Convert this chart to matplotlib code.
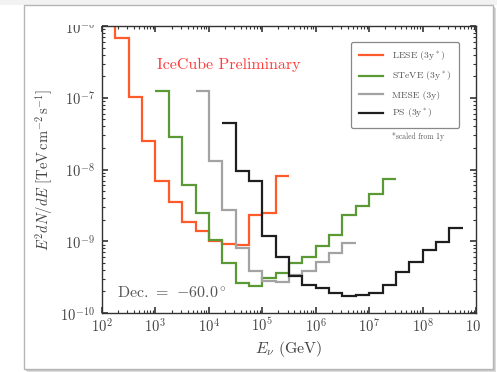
import matplotlib
matplotlib.use('Agg')
import matplotlib.pyplot as plt
import numpy as np
from matplotlib.lines import Line2D
from matplotlib.patches import Rectangle
from matplotlib.ticker import LogLocator, FuncFormatter, NullFormatter
from matplotlib.transforms import Bbox, TransformedBbox

plt.rcParams['font.family'] = ['cmr10', 'DejaVu Serif']
plt.rcParams['mathtext.fontset'] = 'cm'
plt.rcParams['axes.formatter.use_mathtext'] = True

# sensitivities per quarter-decade energy bin, E^2 dN/dE in TeV cm^-2 s^-1
# each sample: (log10 E_min, log10 E_max) of the binned range
lese_range = (2.0, 5.5)
lese_flux = [2.0e-6, 6.8e-7, 1.02e-7, 2.5e-8, 7.0e-9, 3.56e-9, 1.86e-9,
             1.39e-9, 1.0e-9, 9.3e-10, 9.0e-10, 2.32e-9, 2.45e-9, 8.1e-9]

steve_range = (3.0, 7.5)
steve_flux = [1.24e-7, 2.8e-8, 6.1e-9, 2.5e-9, 1.03e-9, 4.9e-10, 2.6e-10,
              2.35e-10, 3.1e-10, 3.6e-10, 4.9e-10, 6.0e-10, 8.5e-10, 1.24e-9,
              2.3e-9, 3.1e-9, 4.5e-9, 7.4e-9]

mese_range = (3.75, 6.75)
mese_flux = [1.24e-7, 1.3e-8, 2.75e-9, 8.0e-10, 3.85e-10, 2.8e-10, 2.7e-10,
             3.4e-10, 3.9e-10, 5.1e-10, 6.8e-10, 9.6e-10]

ps_range = (4.25, 8.75)
ps_flux = [4.5e-8, 9.6e-9, 7.0e-9, 1.18e-9, 6.1e-10, 3.3e-10, 2.45e-10,
           2.25e-10, 1.9e-10, 1.7e-10, 1.78e-10, 1.92e-10, 2.46e-10, 3.77e-10,
           5.2e-10, 7.55e-10, 9.9e-10, 1.51e-9]

samples = [
    ('LESE (3y$^*$)', lese_range, lese_flux, '#ff5a2a'),
    ('STeVE (3y$^*$)', steve_range, steve_flux, '#5b9935'),
    ('MESE (3y)', mese_range, mese_flux, '#a3a3a3'),
    ('PS (3y$^*$)', ps_range, ps_flux, '#1e1e1e'),
]

W, H = 497, 372
fig = plt.figure(figsize=(W / 100, H / 100), dpi=100)
fig.patch.set_facecolor('white')

# framed white panel with a soft shadow, kept behind the axes
def px_rect(x0, y0, x1, y1, **kw):
    return Rectangle((x0 / W, 1 - y1 / H), (x1 - x0) / W, (y1 - y0) / H,
                     transform=fig.transFigure, zorder=-10, **kw)

fig.patches.append(px_rect(0, 0, W, 5, facecolor='#f2f2f2', edgecolor='none'))
fig.patches.append(px_rect(27, 8, 496, 372, facecolor='#dcdcdc', edgecolor='none'))
fig.patches.append(px_rect(26, 7, 495, 371, facecolor='#c8c8c8', edgecolor='none'))
fig.patches.append(px_rect(24, 5, 493, 369, facecolor='white',
                           edgecolor='#b5b5b5', linewidth=1.0))

ax = fig.add_axes([102 / W, 1 - 313 / H, 374 / W, 287 / H])
ax.patch.set_alpha(0)
ax.set_xscale('log')
ax.set_yscale('log')
ax.set_xlim(1e2, 1e9)
ax.set_ylim(1e-10, 1e-6)

for label, (lo, hi), flux, color in samples:
    nbins = len(flux)
    edges = 10 ** np.linspace(lo, hi, nbins + 1)
    ax.stairs(flux, edges, baseline=None, color=color, linewidth=1.6)

fmt = FuncFormatter(lambda v, pos: r'$10^{%d}$' % round(np.log10(v)))
ax.xaxis.set_major_locator(LogLocator(base=10, numticks=20))
ax.yaxis.set_major_locator(LogLocator(base=10, numticks=20))
ax.xaxis.set_minor_locator(LogLocator(base=10, subs=np.arange(2, 10), numticks=20))
ax.yaxis.set_minor_locator(LogLocator(base=10, subs=np.arange(2, 10), numticks=20))
ax.xaxis.set_major_formatter(fmt)
ax.yaxis.set_major_formatter(fmt)
ax.xaxis.set_minor_formatter(NullFormatter())
ax.yaxis.set_minor_formatter(NullFormatter())
ax.tick_params(which='both', direction='in', top=True, right=True,
               color='#333333', labelcolor='#444444', labelsize=10.5)
ax.tick_params(which='major', length=4.5, width=1.2)
ax.tick_params(axis='x', which='major', pad=3)
ax.tick_params(axis='y', which='major', pad=5)
ax.tick_params(which='minor', length=2.5, width=0.8)
for s in ax.spines.values():
    s.set_color('#333333')
    s.set_linewidth(1.0)

ax.set_xlabel(r'$E_\nu\ \mathrm{(GeV)}$', fontsize=11.5, color='#444444', labelpad=3)
ax.set_ylabel(r'$E^2 dN/dE\ [\mathrm{TeV\,cm^{-2}\,s^{-1}}]$', fontsize=10.5,
              color='#444444', labelpad=3)

ax.text(0.148, 0.865, 'IceCube Preliminary', transform=ax.transAxes,
        color='#ff3b3b', fontsize=11.5, va='center', ha='left')
ax.text(0.04, 0.07, r'Dec. $=$ $-60.0^\circ$', transform=ax.transAxes,
        color='#555555', fontsize=11.5, va='center', ha='left')

handles = [Line2D([], [], color=c, linewidth=1.6) for _, _, _, c in samples]
leg = ax.legend(handles, [s[0] for s in samples], loc='upper right',
                bbox_to_anchor=(0.955, 0.945), fontsize=7, frameon=True,
                fancybox=True, edgecolor='#888888', framealpha=1,
                handlelength=2.5, handletextpad=0.9, labelspacing=0.75,
                borderpad=0.8, borderaxespad=0)
leg.get_frame().set_linewidth(0.9)
for t in leg.get_texts():
    t.set_color('#555555')
ax.text(0.775, 0.615, '*scaled from 1y', transform=ax.transAxes,
        color='#555555', fontsize=5.5, va='center', ha='left')

# the plot image is trimmed at the top and right edges
clip = TransformedBbox(Bbox.from_extents(0, 0, 481 / W, 1 - 25 / H), fig.transFigure)
for tick in ax.xaxis.get_major_ticks() + ax.yaxis.get_major_ticks():
    tick.label1.set_clip_box(clip)
    tick.label1.set_clip_on(True)

fig.savefig('out.png', dpi=100)
